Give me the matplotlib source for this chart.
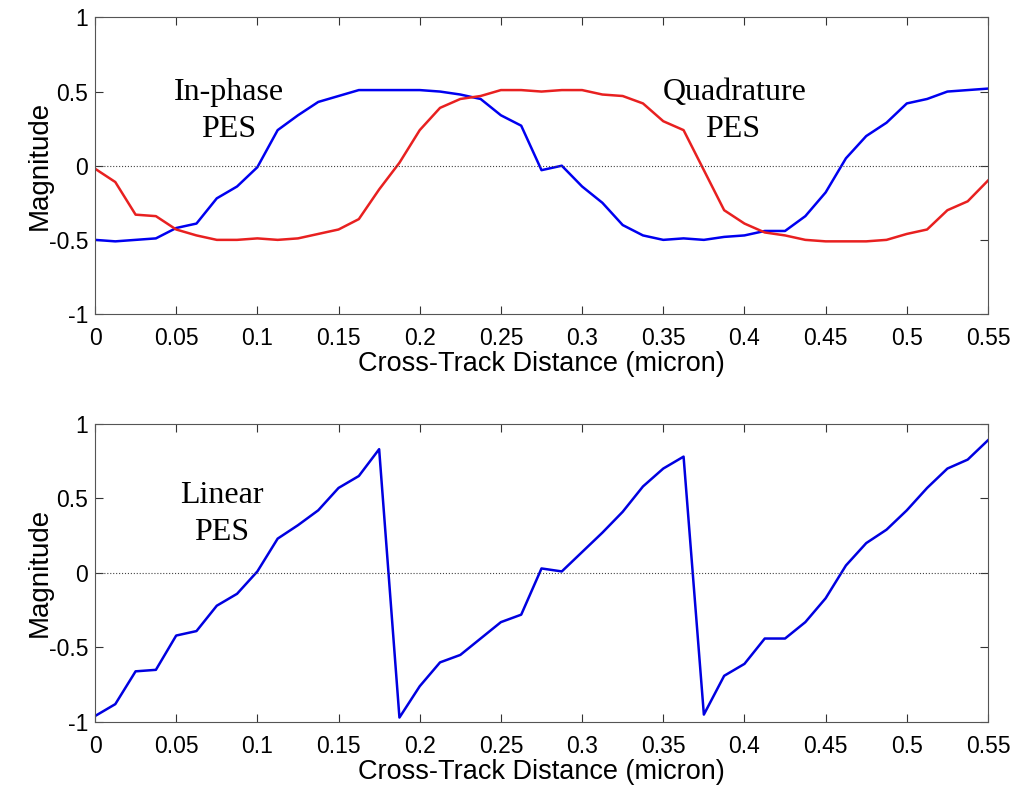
import numpy as np
import matplotlib.pyplot as plt
from matplotlib.ticker import FuncFormatter

plt.rcParams["axes.unicode_minus"] = False
plt.rcParams["font.family"] = ["Liberation Sans", "DejaVu Sans"]

# data: cross-track samples every 0.0125 micron
x_step = 0.0125
n_pts = 45
in_phase = [-0.50, -0.51, -0.50, -0.49, -0.42, -0.39, -0.22, -0.14, -0.01, 0.24,
            0.34, 0.43, 0.47, 0.51, 0.51, 0.51, 0.51, 0.50, 0.48, 0.45,
            0.34, 0.27, -0.03, 0.00, -0.14, -0.25, -0.40, -0.47, -0.50, -0.49,
            -0.50, -0.48, -0.47, -0.44, -0.44, -0.34, -0.18, 0.05, 0.20, 0.29,
            0.42, 0.45, 0.50, 0.51, 0.52]
quadrature = [-0.02, -0.11, -0.33, -0.34, -0.43, -0.47, -0.50, -0.50, -0.49, -0.50,
              -0.49, -0.46, -0.43, -0.36, -0.16, 0.02, 0.24, 0.39, 0.45, 0.47,
              0.51, 0.51, 0.50, 0.51, 0.51, 0.48, 0.47, 0.42, 0.30, 0.24,
              -0.03, -0.30, -0.39, -0.45, -0.47, -0.50, -0.51, -0.51, -0.51, -0.50,
              -0.46, -0.43, -0.30, -0.24, -0.10]
linear = [-0.96, -0.88, -0.66, -0.65, -0.42, -0.39, -0.22, -0.14, 0.01, 0.23,
          0.32, 0.42, 0.57, 0.65, 0.83, -0.97, -0.76, -0.60, -0.55, -0.44,
          -0.33, -0.28, 0.03, 0.01, 0.14, 0.27, 0.41, 0.58, 0.70, 0.78,
          -0.95, -0.69, -0.61, -0.44, -0.44, -0.33, -0.17, 0.05, 0.20, 0.29,
          0.42, 0.57, 0.70, 0.76, 0.89]
x = np.arange(n_pts) * x_step

xticks = np.arange(0, 0.551, 0.05)
yticks = [-1, -0.5, 0, 0.5, 1]

fig = plt.figure(figsize=(10.15, 7.91), dpi=100)
ax1 = fig.add_axes([0.0936, 0.603, 0.8798, 0.375])
ax2 = fig.add_axes([0.0936, 0.0872, 0.8798, 0.377])

ax1.plot(x, in_phase, color="#0000f0", lw=1.8)
ax1.plot(x, quadrature, color="#e82020", lw=1.8)
ax2.plot(x, linear, color="#0000e0", lw=1.8)

for ax in (ax1, ax2):
    ax.axhline(0, color="#444444", lw=0.8, ls=":")
    ax.set_xlim(0, 0.55)
    ax.set_ylim(-1, 1)
    ax.set_xticks(xticks)
    ax.set_yticks(yticks)
    ax.xaxis.set_major_formatter(FuncFormatter(lambda v, p: "%g" % round(v, 3)))
    ax.yaxis.set_major_formatter(FuncFormatter(lambda v, p: "%g" % v))
    ax.tick_params(direction="in", top=True, right=True, length=6,
                   labelsize=16.5, color="#333333")
    ax.tick_params(axis="x", pad=9)
    ax.tick_params(axis="y", pad=5)
    for s in ax.spines.values():
        s.set_color("#555555")
    ax.set_xlabel("Cross-Track Distance (micron)", fontsize=19.5, labelpad=1)
    ax.set_ylabel("Magnitude", fontsize=20, labelpad=-3)

serif = ["Liberation Serif", "DejaVu Serif"]
kw = dict(family=serif, fontsize=23, ha="center", va="baseline")
ax1.text(0.0825, 0.443, "In-phase", **kw)
ax1.text(0.0825, 0.196, "PES", **kw)
ax1.text(0.394, 0.443, "Quadrature", **kw)
ax1.text(0.393, 0.196, "PES", **kw)
ax2.text(0.078, 0.47, "Linear", **kw)
ax2.text(0.078, 0.222, "PES", **kw)

plt.savefig("out.png", dpi=100)
